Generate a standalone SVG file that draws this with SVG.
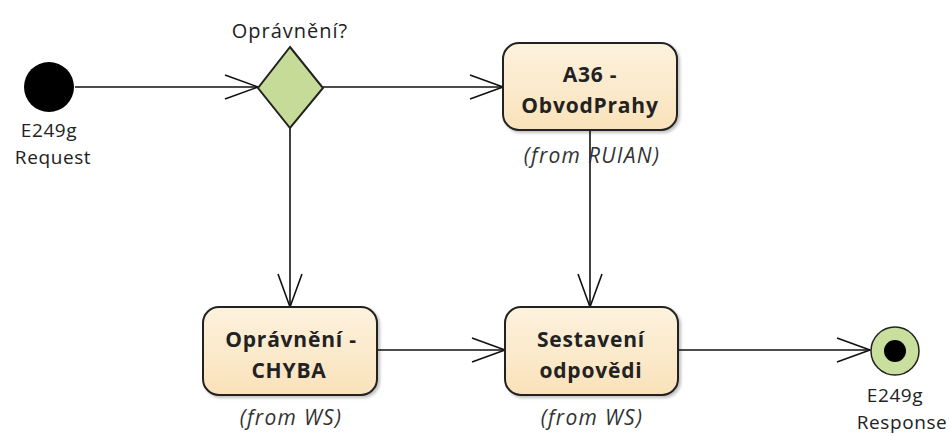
<svg xmlns="http://www.w3.org/2000/svg" width="950" height="436" viewBox="0 0 950 436">
<style>
.lbl{font-family:"Open Sans","Liberation Sans",sans-serif;font-size:19px;letter-spacing:0.6px;fill:#222;text-anchor:middle}
.nt{font-family:"Open Sans","Liberation Sans",sans-serif;font-size:21px;letter-spacing:0.8px;font-weight:bold;fill:#222;text-anchor:middle}
.it{font-family:"Open Sans","Liberation Sans",sans-serif;font-size:21px;letter-spacing:1.3px;font-style:italic;fill:#333;text-anchor:middle}
.box{fill:url(#g);stroke:#222;stroke-width:2}
.c{fill:none;stroke:#111;stroke-width:1.6}
</style>
<defs>
<linearGradient id="g" x1="0" y1="0" x2="0" y2="1">
<stop offset="0" stop-color="#FDF2DE"/>
<stop offset="1" stop-color="#F9E2BA"/>
</linearGradient>
<marker id="a" markerWidth="40" markerHeight="30" refX="34" refY="13" orient="auto" markerUnits="userSpaceOnUse">
<path d="M1,1 L34,13 L1,25" fill="none" stroke="#111" stroke-width="1.6"/>
</marker>
<filter id="s" x="-10%" y="-10%" width="130%" height="130%">
<feDropShadow dx="2" dy="2" stdDeviation="1.5" flood-color="#000" flood-opacity="0.25"/>
</filter>
</defs>
<rect width="950" height="436" fill="#fff"/>
<g id="connectors">
<line class="c" x1="75" y1="87" x2="258" y2="87" marker-end="url(#a)"/>
<line class="c" x1="323" y1="87" x2="503" y2="87" marker-end="url(#a)"/>
<line class="c" x1="290" y1="128" x2="290" y2="307" marker-end="url(#a)"/>
<line class="c" x1="590" y1="130" x2="590" y2="307" marker-end="url(#a)"/>
<line class="c" x1="377" y1="350" x2="505" y2="350" marker-end="url(#a)"/>
<line class="c" x1="678" y1="350" x2="870" y2="350" marker-end="url(#a)"/>
</g>
<g id="start">
<circle cx="49" cy="87" r="25" fill="#000"/>
<text class="lbl" x="49" y="137">E249g</text>
<text class="lbl" x="53" y="164">Request</text>
</g>
<g id="decision">
<polygon points="290,47 323,88 290,128 258,88" fill="#C5DB97" stroke="#222" stroke-width="2"/>
<text class="lbl" x="290" y="38" style="font-size:20px;letter-spacing:1px">Oprávnění?</text>
</g>
<g id="a36">
<rect class="box" x="503" y="43" width="174" height="87" rx="16" filter="url(#s)"/>
<text class="nt" x="590" y="82">A36 -</text>
<text class="nt" x="590" y="113">ObvodPrahy</text>
<text class="it" x="592" y="163">(from RUIAN)</text>
</g>
<g id="chyba">
<rect class="box" x="203" y="307" width="174" height="88" rx="16" filter="url(#s)"/>
<text class="nt" x="291" y="347">Oprávnění -</text>
<text class="nt" x="289" y="378">CHYBA</text>
<text class="it" x="291" y="425">(from WS)</text>
</g>
<g id="sestaveni">
<rect class="box" x="505" y="307" width="173" height="88" rx="16" filter="url(#s)"/>
<text class="nt" x="591" y="347">Sestavení</text>
<text class="nt" x="591" y="378">odpovědi</text>
<text class="it" x="592" y="425">(from WS)</text>
</g>
<g id="end">
<circle cx="895" cy="351" r="24" fill="#C8DF9E" stroke="#222" stroke-width="1.5"/>
<circle cx="895" cy="351" r="11" fill="#000"/>
<text class="lbl" x="895" y="402">E249g</text>
<text class="lbl" x="902" y="429">Response</text>
</g>
</svg>
